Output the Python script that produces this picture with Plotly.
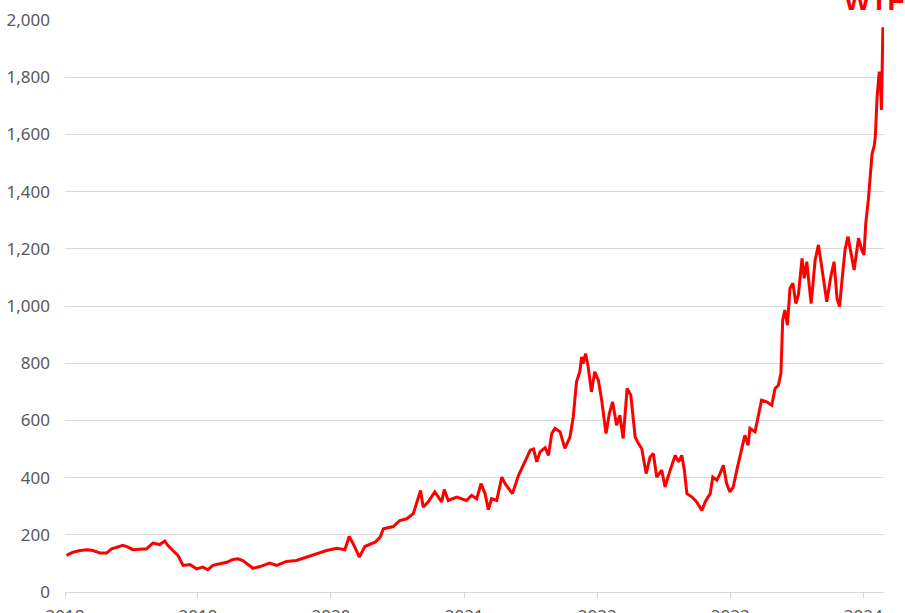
import plotly.graph_objects as go

dates = [
    "2018-01-05", "2018-01-23", "2018-02-11", "2018-03-02", "2018-03-19", "2018-04-07", "2018-04-25",
    "2018-05-09", "2018-06-09", "2018-06-23", "2018-07-06", "2018-08-13", "2018-08-30", "2018-09-18",
    "2018-10-02", "2018-10-10", "2018-10-24", "2018-11-07", "2018-11-21", "2018-12-10", "2018-12-28",
    "2019-01-14", "2019-01-28", "2019-02-11", "2019-03-02", "2019-03-21", "2019-04-07", "2019-04-21",
    "2019-05-04", "2019-06-01", "2019-06-20", "2019-07-17", "2019-08-05", "2019-09-01", "2019-09-28",
    "2019-10-26", "2019-11-23", "2019-12-20", "2020-01-17", "2020-02-08", "2020-02-20", "2020-03-02",
    "2020-03-19", "2020-04-03", "2020-05-01", "2020-05-15", "2020-05-24", "2020-06-20", "2020-07-08",
    "2020-07-27", "2020-08-14", "2020-08-25", "2020-09-03", "2020-09-10", "2020-09-24", "2020-10-12",
    "2020-10-31", "2020-11-07", "2020-11-18", "2020-12-11", "2021-01-07", "2021-01-21", "2021-02-04",
    "2021-02-16", "2021-02-27", "2021-03-08", "2021-03-17", "2021-03-31", "2021-04-14", "2021-04-23",
    "2021-05-13", "2021-05-30", "2021-06-12", "2021-06-26", "2021-07-01", "2021-07-10", "2021-07-19",
    "2021-07-28", "2021-08-11", "2021-08-20", "2021-08-29", "2021-09-07", "2021-09-21", "2021-10-04",
    "2021-10-18", "2021-10-27", "2021-11-05", "2021-11-14", "2021-11-19", "2021-11-23", "2021-11-30",
    "2021-12-07", "2021-12-16", "2021-12-25", "2022-01-04", "2022-01-13", "2022-01-25", "2022-02-03",
    "2022-02-12", "2022-02-23", "2022-03-04", "2022-03-13", "2022-03-24", "2022-04-03", "2022-04-15",
    "2022-04-24", "2022-05-03", "2022-05-15", "2022-05-26", "2022-06-04", "2022-06-13", "2022-06-27",
    "2022-07-06", "2022-07-20", "2022-07-27", "2022-08-03", "2022-08-12", "2022-08-21", "2022-08-28",
    "2022-09-04", "2022-09-18", "2022-10-01", "2022-10-15", "2022-10-24", "2022-11-07", "2022-11-14",
    "2022-11-25", "2022-12-04", "2022-12-13", "2022-12-22", "2022-12-31", "2023-01-09", "2023-01-19",
    "2023-02-01", "2023-02-10", "2023-02-19", "2023-02-24", "2023-03-10", "2023-03-19", "2023-03-28",
    "2023-04-11", "2023-04-25", "2023-05-04", "2023-05-13", "2023-05-20", "2023-05-25", "2023-05-31",
    "2023-06-07", "2023-06-14", "2023-06-22", "2023-06-30", "2023-07-07", "2023-07-17", "2023-07-23",
    "2023-07-30", "2023-08-11", "2023-08-22", "2023-08-31", "2023-09-11", "2023-09-23", "2023-10-04",
    "2023-10-13", "2023-10-21", "2023-10-28", "2023-11-03", "2023-11-12", "2023-11-20", "2023-11-28",
    "2023-12-07", "2023-12-19", "2023-12-28", "2024-01-03", "2024-01-08", "2024-01-15", "2024-01-20",
    "2024-01-25", "2024-01-31", "2024-02-03", "2024-02-08", "2024-02-14", "2024-02-17", "2024-02-20",
    "2024-02-24",
]

values = [
    128, 139, 145, 148, 145, 136, 136,
    151, 163, 157, 148, 151, 171, 166,
    178, 163, 145, 128, 93, 96, 81,
    87, 78, 93, 99, 104, 114, 116,
    110, 83, 89, 101, 93, 107, 110,
    122, 134, 145, 153, 148, 194, 169,
    122, 159, 174, 192, 221, 229, 250,
    256, 274, 315, 355, 297, 315, 350,
    315, 358, 320, 332, 320, 338, 326,
    379, 344, 288, 326, 320, 402, 379,
    344, 408, 443, 478, 496, 500, 455,
    490, 505, 478, 554, 572, 560, 502,
    542, 612, 735, 770, 822, 799, 834,
    787, 700, 770, 741, 671, 554, 624,
    665, 583, 618, 537, 712, 688, 542,
    519, 502, 414, 472, 484, 402, 426,
    367, 426, 449, 478, 455, 478, 426,
    344, 332, 315, 285, 315, 344, 402,
    391, 414, 443, 379, 350, 367, 426,
    502, 548, 513, 572, 560, 618, 671,
    665, 653, 712, 723, 764, 951, 986,
    933, 1062, 1080, 1009, 1039, 1167, 1097,
    1155, 1009, 1161, 1214, 1120, 1015, 1103,
    1155, 1027, 998, 1080, 1196, 1243, 1185,
    1126, 1237, 1196, 1179, 1290, 1371, 1450,
    1530, 1560, 1590, 1730, 1820, 1800, 1686,
    1975,
]

title_text = "WTF"
year_ticks = ["2018-01-01", "2019-01-01", "2020-01-01", "2021-01-01", "2022-01-01", "2023-01-01", "2024-01-01"]
year_labels = ["2018", "2019", "2020", "2021", "2022", "2023", "2024"]
y_ticks = list(range(0, 2001, 200))

fig = go.Figure()
fig.add_trace(go.Scatter(
    x=dates, y=values, mode="lines",
    line=dict(color="#FF0000", width=3),
    hoverinfo="skip", showlegend=False,
))

fig.update_layout(
    width=905, height=613,
    margin=dict(l=65, r=21, t=20, b=21, autoexpand=False),
    paper_bgcolor="white", plot_bgcolor="white",
    font=dict(family="Noto Sans", size=17, color="#595959"),
    showlegend=False,
)

fig.update_xaxes(
    type="date",
    range=["2018-01-01", "2024-02-27"],
    tickvals=year_ticks, ticktext=year_labels,
    showgrid=False, zeroline=False,
    showline=True, linecolor="#d9d9d9", linewidth=1,
    ticks="outside", ticklen=5, tickcolor="#d9d9d9", tickwidth=1,
    ticklabelstandoff=4,
    automargin=False,
)

fig.update_yaxes(
    range=[0, 2000.3],
    tickvals=y_ticks,
    tickformat=",d",
    showgrid=True, gridcolor="#d9d9d9", gridwidth=1,
    zeroline=False, showline=False,
    ticks="", ticklabelstandoff=14,
    automargin=False,
)

fig.add_annotation(
    text="<b>" + title_text + "</b>",
    xref="paper", yref="paper", x=0.949, y=1.0035,
    xanchor="left", yanchor="bottom", showarrow=False,
    font=dict(family="Liberation Sans", size=28, color="#FF0000"),
)

# remove the browser's default body margin so the figure fills the window exactly
fig.write_html(
    "out.html",
    config={"displayModeBar": False, "staticPlot": True},
    post_script="document.body.style.margin='0';document.body.style.overflow='hidden';",
)
